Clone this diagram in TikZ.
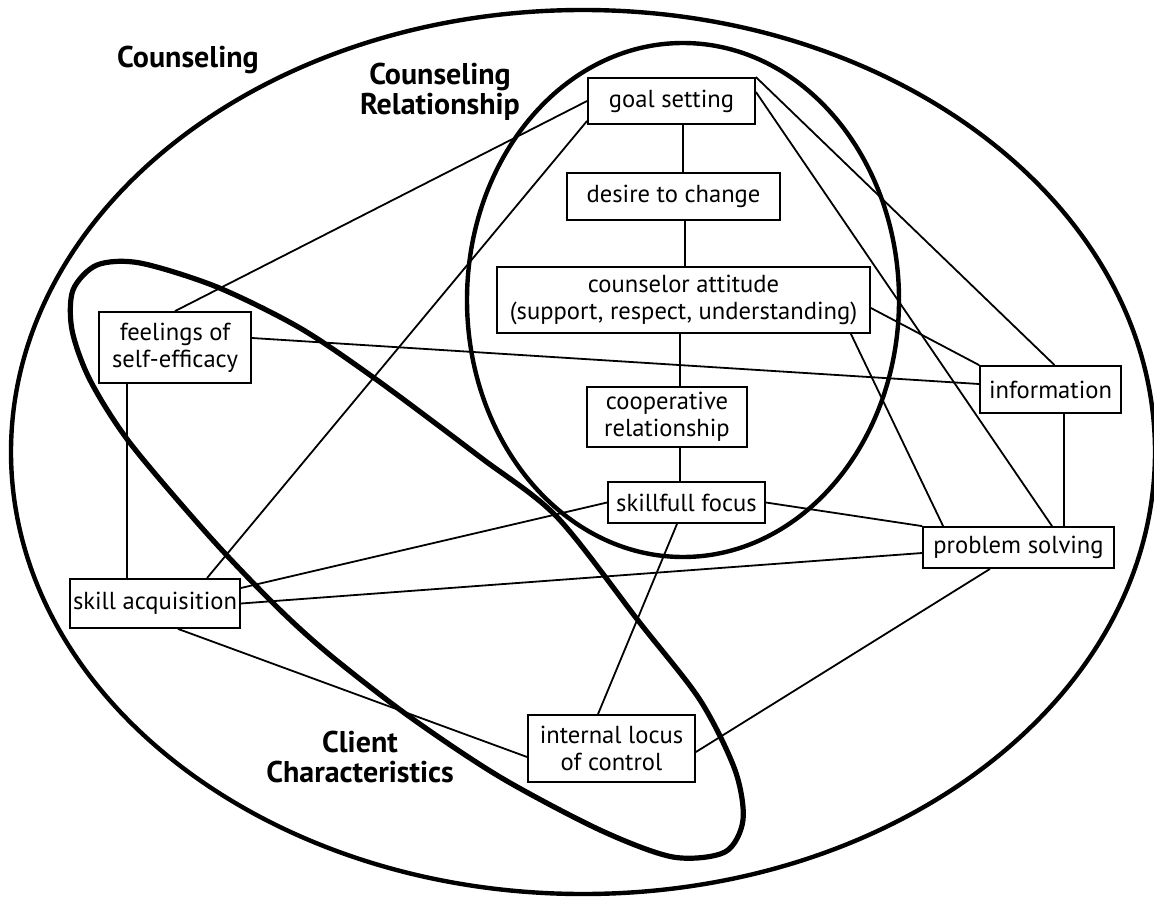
\documentclass[tikz,border=0pt]{standalone}
\usepackage{fontspec}
\setmainfont{PT Sans}
\usepackage{tikz}

\tikzset{
  caja/.style={draw, line width=0.9pt, align=center, inner sep=0pt, font=\fontsize{12.3}{13.5}\selectfont},
  etiqueta/.style={align=center, font=\fontsize{15}{15}\selectfont\bfseries},
  enlace/.style={line width=0.9pt},
  contorno/.style={line width=2.2pt}
}

\begin{document}
\begin{tikzpicture}[x=0.5pt,y=-0.5pt]
            \useasboundingbox (0,0) rectangle (1154,898);

            % Elipses
            \draw[contorno] (583,452) ellipse [x radius=286pt, y radius=221pt];
            \draw[contorno] (683,300) ellipse [x radius=108pt, y radius=128.5pt];
            \draw[contorno, line width=2.6pt] plot[smooth cycle] coordinates {
              (73,290) (97,265) (140,263) (217,287) (300,328) (377,380) (480,457)
              (557,517) (640,623) (700,700) (735,770) (743,820) (725,852) (673,857)
              (600,830) (500,777) (410,717) (330,655) (277,607) (210,537) (130,443)
              (90,380) (72,330)};

            % Titulos
            \node[etiqueta] (tcounseling) at (188,60) {Counseling};
            \node[etiqueta] (trelationship) at (440,92) {Counseling\\Relationship};
            \node[etiqueta] (tclient) at (360,757) {Client\\Characteristics};

            % Cajas
            \node[caja, minimum width=83.5pt, minimum height=23pt] (goal) at (671.5,101) {goal setting};
            \node[caja, minimum width=106.5pt, minimum height=23.5pt] (desire) at (673.5,196.5) {desire to change};
            \node[caja, minimum width=186.5pt, minimum height=33pt] (attitude) at (683.5,300) {counselor attitude\\(support, respect, understanding)};
            \node[caja, minimum width=80pt, minimum height=30pt] (coop) at (667,417) {cooperative\\relationship};
            \node[caja, minimum width=78.5pt, minimum height=20.5pt] (focus) at (686.5,502.5) {skillfull focus};
            \node[caja, minimum width=76pt, minimum height=35.5pt] (efficacy) at (175,347.5) {feelings of\\self-efficacy};
            \node[caja, minimum width=85pt, minimum height=24.5pt] (skill) at (155,603.5) {skill acquisition};
            \node[caja, minimum width=70.5pt, minimum height=23.5pt] (info) at (1050.5,389.5) {information};
            \node[caja, minimum width=95.5pt, minimum height=20.5pt] (problem) at (1018.5,547.5) {problem solving};
            \node[caja, minimum width=83.5pt, minimum height=33.5pt] (locus) at (611.5,748.5) {internal locus\\of control};

            % Conexiones verticales
            \draw[enlace] ([xshift=5.75pt]goal.south) -- ([xshift=4.75pt]desire.north);
            \draw[enlace] ([xshift=5.75pt]desire.south) -- ([xshift=0.75pt]attitude.north);
            \draw[enlace] ([xshift=-1.75pt]attitude.south) -- ([xshift=6.5pt]coop.north);
            \draw[enlace] ([xshift=6.5pt]coop.south) -- ([xshift=-3.25pt]focus.north);
            \draw[enlace] ([xshift=-24pt]efficacy.south) -- ([xshift=-14pt]skill.north);
            \draw[enlace] ([xshift=6.75pt]info.south) -- ([xshift=22.75pt]problem.north);

            % Conexiones desde goal setting
            \draw[enlace] (goal.west) -- (efficacy.north);
            \draw[enlace] ([yshift=2pt]goal.south west) -- ([xshift=26pt]skill.north);
            \draw[enlace] (goal.north east) -- ([xshift=2pt]info.north);
            \draw[enlace] ([yshift=4.5pt]goal.east) -- ([xshift=16.75pt]problem.north);

            % Conexiones restantes
            \draw[enlace] ([yshift=-4pt]attitude.east) -- (info.north west);
            \draw[enlace] ([xshift=-10pt]attitude.south east) -- ([xshift=10.5pt]problem.north west);
            \draw[enlace] ([yshift=4.75pt]efficacy.east) -- ([yshift=2.75pt]info.west);
            \draw[enlace] (focus.east) -- (problem.north west);
            \draw[enlace] (focus.west) -- ([yshift=7.75pt]skill.east);
            \draw[enlace] (skill.east) -- ([yshift=-2.75pt]problem.west);
            \draw[enlace] ([xshift=-4.75pt]focus.south) -- ([xshift=-6.75pt]locus.north);
            \draw[enlace] ([xshift=11.5pt]skill.south) -- ([yshift=-4.25pt]locus.west);
            \draw[enlace] ([xshift=-14.25pt]problem.south) -- ([yshift=-1.75pt]locus.east);
\end{tikzpicture}
\end{document}
